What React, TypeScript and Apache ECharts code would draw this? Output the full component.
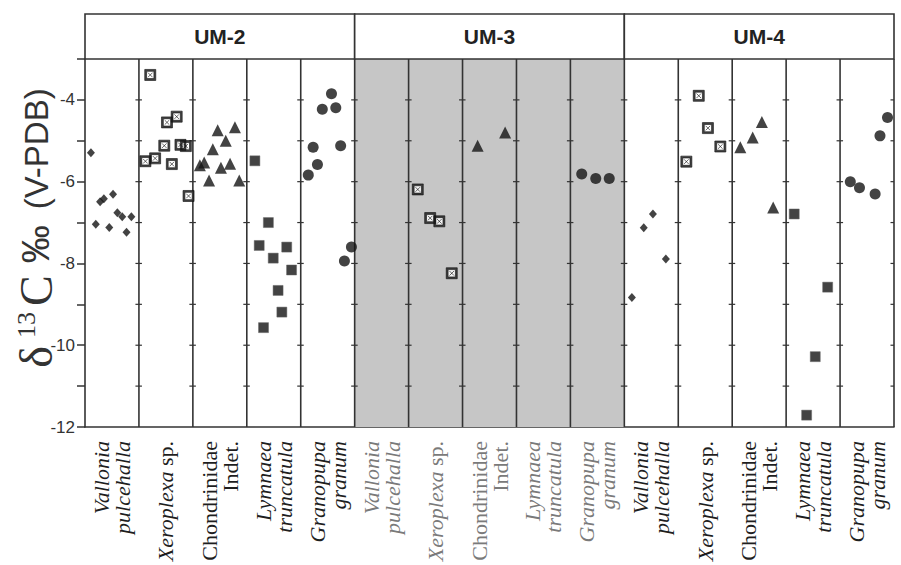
import React, { useEffect, useRef } from 'react';
import * as echarts from 'echarts';

// ---------- data ----------
const groups = ['UM-2', 'UM-3', 'UM-4'];
const shadedGroup = 1; // UM-3
const speciesRich = [
  '{I|Vallonia}\n{I|pulcehalla}',
  '{I|Xeroplexa}{N| sp.}',
  '{N|Chondrinidae}\n{N|Indet.}',
  '{I|Lymnaea}\n{I|truncatula}',
  '{I|Granopupa}\n{I|granum}',
];
const columnLabels = groups.flatMap((g) => speciesRich.map((s) => g + '#' + s));
const yAxisTitle = '{d|δ}{s|13}{c|C}{p|‰}{v|(V-PDB)}';

const yMin = -12;
const yMax = -3;

const valloniaUM2 = [[0.11, -5.29], [0.28, -6.49], [0.35, -6.42], [0.52, -6.31], [0.2, -7.04], [0.6, -6.76], [0.69, -6.86], [0.86, -6.86], [0.45, -7.12], [0.77, -7.24]];
const valloniaUM4 = [[10.14, -8.83], [10.36, -7.13], [10.53, -6.79], [10.77, -7.89]];
const xeroplexaUM2 = [[1.21, -3.39], [1.52, -4.55], [1.7, -4.41], [1.47, -5.12], [1.77, -5.1], [1.87, -5.13], [1.12, -5.5], [1.3, -5.43], [1.61, -5.57], [1.92, -6.35]];
const xeroplexaUM3 = [[6.17, -6.19], [6.4, -6.89], [6.57, -6.97], [6.8, -8.24]];
const xeroplexaUM4 = [[11.38, -3.9], [11.55, -4.69], [11.78, -5.14], [11.15, -5.51]];
const chondrinidaeUM2 = [[2.46, -4.74], [2.78, -4.67], [2.61, -5.0], [2.37, -5.21], [2.21, -5.53], [2.13, -5.6], [2.52, -5.66], [2.69, -5.56], [2.3, -5.97], [2.86, -5.97]];
const chondrinidaeUM3 = [[7.28, -5.12], [7.79, -4.8]];
const chondrinidaeUM4 = [[12.15, -5.16], [12.38, -4.92], [12.55, -4.54], [12.76, -6.63]];
const lymnaeaUM2 = [[3.15, -5.49], [3.4, -7.0], [3.23, -7.56], [3.74, -7.6], [3.49, -7.87], [3.83, -8.16], [3.58, -8.66], [3.65, -9.19], [3.31, -9.57]];
const lymnaeaUM4 = [[13.15, -6.79], [13.77, -8.58], [13.54, -10.28], [13.38, -11.71]];
const granopupaUM2 = [[4.57, -3.85], [4.4, -4.23], [4.65, -4.19], [4.23, -5.16], [4.74, -5.12], [4.31, -5.58], [4.14, -5.84], [4.94, -7.6], [4.81, -7.94]];
const granopupaUM3 = [[9.21, -5.81], [9.47, -5.92], [9.72, -5.92]];
const granopupaUM4 = [[14.19, -6.0], [14.36, -6.15], [14.65, -6.3], [14.74, -4.88], [14.88, -4.43]];

// ---------- style ----------
const INK = '#141414';
const LINE = '#333';
const SANS = '"Liberation Sans", Arial, sans-serif';
const SERIF = '"Liberation Serif", "Times New Roman", serif';
const nCols = groups.length * speciesRich.length;
const crossSquare = 'path://M0,0H12V12H0Z M2,2V10H10V2Z M3.5,3.5L8.5,8.5M8.5,3.5L3.5,8.5';

function buildOption(): any {
  const boundaries = Array.from({ length: nCols }, (_, i) => [i + 1]);
  const labelStyle = (grey: boolean, italic: boolean) => ({
    fontFamily: SERIF,
    fontSize: 22,
    fontStyle: italic ? 'italic' : 'normal',
    color: grey ? '#7a7a7a' : '#1e1e1e',
    lineHeight: 21,
  });
  return {
    animation: false,
    backgroundColor: '#fff',
    grid: { left: 85, right: 7, top: 59, bottom: 138, outerBoundsMode: 'none', containLabel: false },
    graphic: [
      {
        type: 'text', x: 36, y: 228, rotation: Math.PI / 2,
        style: {
          text: yAxisTitle, align: 'center', verticalAlign: 'middle', fill: '#333',
          rich: {
            d: { fontFamily: SERIF, fontSize: 46, fill: '#333', padding: [0, 8, 0, 0] },
            s: { fontFamily: SERIF, fontSize: 26, fill: '#333', verticalAlign: 'top', padding: [0, 6, 0, 0] },
            c: { fontFamily: SERIF, fontSize: 46, fill: '#333', padding: [0, 12, 0, 0] },
            p: { fontFamily: SANS, fontSize: 38, fill: '#333', padding: [0, 16, 0, 0] },
            v: { fontFamily: SANS, fontSize: 33, fill: '#333' },
          },
        },
      },
    ],
    xAxis: [
      {
        type: 'value', min: 0, max: nCols, interval: 1,
        axisLine: { show: true, onZero: false, lineStyle: { color: LINE, width: 1.6 } },
        axisTick: { show: false }, axisLabel: { show: false }, splitLine: { show: false },
      },
      {
        type: 'category', data: columnLabels, position: 'bottom', boundaryGap: true,
        axisLine: { show: false }, axisTick: { show: false }, splitLine: { show: false },
        axisLabel: {
          interval: 0, rotate: 90, margin: 14,
          formatter: (v: string) => {
            const idx = v.indexOf('#');
            const g = v.slice(0, idx);
            const txt = v.slice(idx + 1);
            const grey = groups.indexOf(g) === shadedGroup;
            return grey ? txt.replace(/\{I\|/g, '{gI|').replace(/\{N\|/g, '{gN|') : txt;
          },
          rich: {
            I: labelStyle(false, true),
            N: labelStyle(false, false),
            gI: labelStyle(true, true),
            gN: labelStyle(true, false),
          },
        },
      },
    ],
    yAxis: {
      type: 'value', min: yMin, max: yMax, interval: 1,
      axisLine: { show: true, lineStyle: { color: LINE, width: 1.6 } },
      axisTick: { show: true, length: 8, lineStyle: { color: LINE, width: 1.5 } },
      splitLine: { show: false },
      axisLabel: {
        formatter: (v: number) => (v % 2 === 0 ? String(v) : ''),
        fontSize: 17, color: '#333', fontFamily: SANS, margin: 10,
      },
    },
    series: [
      {
        type: 'custom', silent: true, z: 1,
        data: [[shadedGroup * 5, shadedGroup * 5 + 5]],
        renderItem: (params: any, api: any) => {
          const p0 = api.coord([api.value(0), yMax]);
          const p1 = api.coord([api.value(1), yMin]);
          return { type: 'rect', shape: { x: p0[0], y: p0[1], width: p1[0] - p0[0], height: p1[1] - p0[1] }, style: { fill: '#c6c6c6' } };
        },
      },
      {
        type: 'custom', silent: true, z: 2,
        data: boundaries,
        renderItem: (params: any, api: any) => {
          const k = api.value(0);
          const top = api.coord([k, yMax]);
          const bot = api.coord([k, yMin]);
          const children: any[] = [
            { type: 'line', shape: { x1: top[0], y1: top[1], x2: bot[0], y2: bot[1] }, style: { stroke: LINE, lineWidth: 1.6 } },
          ];
          for (let y = yMin + 1; y < yMax; y++) {
            const p = api.coord([k, y]);
            const right = k === nCols ? 0 : 3;
            children.push({ type: 'line', shape: { x1: p[0] - 3.5, y1: p[1], x2: p[0] + right, y2: p[1] }, style: { stroke: LINE, lineWidth: 1.2 } });
          }
          return { type: 'group', children };
        },
      },
      {
        type: 'custom', silent: true, z: 2,
        data: groups.map((g, i) => [i * 5, i * 5 + 5]),
        renderItem: (params: any, api: any) => {
          const p0 = api.coord([api.value(0), yMax]);
          const p1 = api.coord([api.value(1), yMax]);
          const h = 45;
          return {
            type: 'group',
            children: [
              { type: 'rect', shape: { x: p0[0], y: p0[1] - h, width: p1[0] - p0[0], height: h }, style: { fill: '#fff', stroke: LINE, lineWidth: 1.6 } },
              {
                type: 'text', x: (p0[0] + p1[0]) / 2, y: p0[1] - h / 2,
                style: { text: groups[params.dataIndex], fontFamily: SANS, fontWeight: 'bold', fontSize: 21, fill: '#222', align: 'center', verticalAlign: 'middle' },
              },
            ],
          };
        },
      },
      {
        type: 'scatter', z: 5, symbol: 'diamond', symbolSize: [8, 9],
        itemStyle: { color: INK },
        data: [...valloniaUM2, ...valloniaUM4],
      },
      {
        type: 'scatter', z: 4, symbol: 'rect', symbolSize: 9,
        itemStyle: { color: '#fff' },
        data: [...xeroplexaUM2, ...xeroplexaUM3, ...xeroplexaUM4],
      },
      {
        type: 'scatter', z: 5, symbol: crossSquare, symbolSize: 11,
        itemStyle: { color: INK, borderColor: INK, borderWidth: 0.8 },
        data: [...xeroplexaUM2, ...xeroplexaUM3, ...xeroplexaUM4],
      },
      {
        type: 'scatter', z: 5, symbol: 'triangle', symbolSize: 12,
        itemStyle: { color: INK },
        data: [...chondrinidaeUM2, ...chondrinidaeUM3, ...chondrinidaeUM4],
      },
      {
        type: 'scatter', z: 5, symbol: 'rect', symbolSize: 10,
        itemStyle: { color: INK, borderColor: '#666', borderWidth: 0.6 },
        data: [...lymnaeaUM2, ...lymnaeaUM4],
      },
      {
        type: 'scatter', z: 5, symbol: 'circle', symbolSize: 11,
        itemStyle: { color: INK },
        data: [...granopupaUM2, ...granopupaUM3, ...granopupaUM4],
      },
    ],
  };
}

export default function App() {
  const ref = useRef<HTMLDivElement>(null);
  useEffect(() => {
    const chart = echarts.init(ref.current!, null, { renderer: 'svg' });
    chart.setOption(buildOption());
    return () => chart.dispose();
  }, []);
  return <div ref={ref} style={{ position: 'fixed', left: 0, top: 0, width: 901, height: 565 }} />;
}
